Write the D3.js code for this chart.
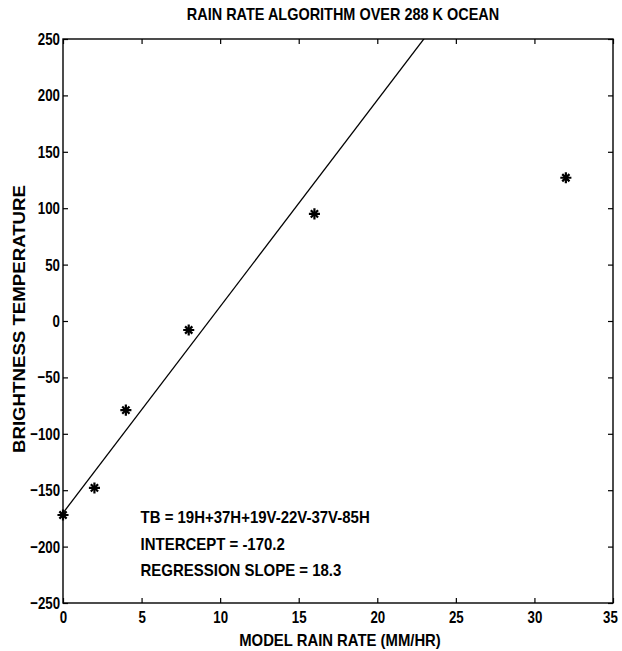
<!DOCTYPE html>
<html>
<head>
<meta charset="utf-8">
<script src="https://cdn.jsdelivr.net/npm/d3@7"></script>
<style>
  body { margin: 0; background: #fff; }
  svg text { font-family: "Liberation Sans", Arial, sans-serif; font-weight: bold; fill: #000; }
</style>
</head>
<body>
<svg id="chart"></svg>
<script>
// values
var rainRate = [0, 2, 4, 8, 16, 32];
var brightness = [-172, -148, -79, -8, 95, 127];
var xTicks = [0, 5, 10, 15, 20, 25, 30, 35];
var yTicks = [-250, -200, -150, -100, -50, 0, 50, 100, 150, 200, 250];
var fitIntercept = -170.2;
var fitSlope = 18.3;
var notes = ["TB = 19H+37H+19V-22V-37V-85H", "INTERCEPT = -170.2", "REGRESSION SLOPE = 18.3"];

var W = 622, H = 651;
var margin = {top: 39, right: 9, bottom: 48, left: 63};
var width = W - margin.left - margin.right;
var height = H - margin.top - margin.bottom;

var svg = d3.select("#chart").attr("width", W).attr("height", H);

var xScale = d3.scaleLinear().domain([0, 35]).range([0, width]);
var yScale = d3.scaleLinear().domain([-250, 250]).range([height, 0]);

// squeeze text horizontally, the original uses a narrow face
function condense(sel, k) {
  sel.each(function() {
    var len = this.getComputedTextLength();
    d3.select(this)
      .attr("textLength", len * k)
      .attr("lengthAdjust", "spacingAndGlyphs");
  });
}

var g = svg.append("g")
  .attr("transform", "translate(" + margin.left + "," + margin.top + ")");

g.append("clipPath").attr("id", "plotClip")
  .append("rect").attr("width", width).attr("height", height);

// inward ticks on all four sides
function styleAxis(sel) {
  sel.attr("font-family", null).attr("font-size", null);
  sel.select(".domain").remove();
  sel.selectAll(".tick line").attr("stroke", "#000").attr("stroke-width", 1.2);
  sel.selectAll(".tick text")
    .attr("font-size", "17px")
    .attr("font-weight", "bold");
}

var xAxisG = g.append("g")
  .attr("transform", "translate(0," + height + ")")
  .call(d3.axisBottom(xScale).tickValues(xTicks).tickSizeInner(-5).tickSizeOuter(0).tickPadding(8))
  .call(styleAxis);

// last label sits against the page edge
xAxisG.selectAll(".tick text").filter(function(d) { return d === 35; }).attr("dx", -3);

g.append("g")
  .call(d3.axisTop(xScale).tickValues(xTicks).tickSizeInner(-5).tickSizeOuter(0).tickFormat(""))
  .call(styleAxis);

g.append("g")
  .call(d3.axisLeft(yScale).tickValues(yTicks).tickSizeInner(-5).tickSizeOuter(0).tickPadding(3))
  .call(styleAxis);

g.append("g")
  .attr("transform", "translate(" + width + ",0)")
  .call(d3.axisRight(yScale).tickValues(yTicks).tickSizeInner(-5).tickSizeOuter(0).tickFormat(""))
  .call(styleAxis);

g.selectAll(".tick text").call(condense, 0.78);

// frame
g.append("rect")
  .attr("width", width).attr("height", height)
  .attr("fill", "none").attr("stroke", "#000").attr("stroke-width", 1.4);

// regression line
var line = d3.line()
  .x(function(d) { return xScale(d); })
  .y(function(d) { return yScale(fitIntercept + fitSlope * d); });

g.append("path")
  .datum([0, 35])
  .attr("clip-path", "url(#plotClip)")
  .attr("d", line)
  .attr("fill", "none")
  .attr("stroke", "#000")
  .attr("stroke-width", 1.3);

// asterisk markers (plus + times)
var points = rainRate.map(function(r, i) { return {x: r, y: brightness[i]}; });
var plus = d3.symbol().type(d3.symbolPlus).size(42);
var times = d3.symbol().type(d3.symbolTimes).size(36);

var marks = g.append("g").selectAll(".pt")
  .data(points)
  .enter().append("g")
    .attr("class", "pt")
    .attr("transform", function(d) {
      return "translate(" + xScale(d.x) + "," + yScale(d.y) + ")";
    });
marks.append("path").attr("d", plus).attr("fill", "none").attr("stroke", "#000").attr("stroke-width", 2.2);
marks.append("path").attr("d", times).attr("fill", "none").attr("stroke", "#000").attr("stroke-width", 2.2);

// annotation text
g.append("g").selectAll("text")
  .data(notes)
  .enter().append("text")
    .attr("x", xScale(5) - 1)
    .attr("y", function(d, i) { return yScale(-250) - 80 + i * 26.5; })
    .attr("font-size", "17px")
    .text(function(d) { return d; })
    .call(condense, 0.88);

// title and axis labels
svg.append("text")
  .attr("x", margin.left + width / 2 + 5)
  .attr("y", 20)
  .attr("text-anchor", "middle")
  .attr("font-size", "17px")
  .text("RAIN RATE ALGORITHM OVER 288 K OCEAN")
  .call(condense, 0.85);

svg.append("text")
  .attr("x", margin.left + width / 2 + 2)
  .attr("y", 646)
  .attr("text-anchor", "middle")
  .attr("font-size", "16.5px")
  .text("MODEL RAIN RATE (MM/HR)")
  .call(condense, 0.9);

svg.append("text")
  .attr("transform", "translate(25," + (margin.top + 280) + ") rotate(-90)")
  .attr("text-anchor", "middle")
  .attr("font-size", "17px")
  .text("BRIGHTNESS TEMPERATURE")
  .attr("textLength", 268)
  .attr("lengthAdjust", "spacingAndGlyphs");
</script>
</body>
</html>
